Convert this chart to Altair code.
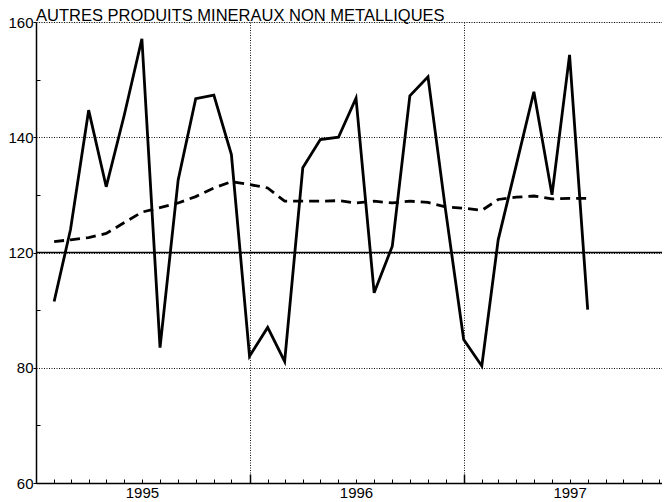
import altair as alt
import pandas as pd

# Monthly observations, Feb 1995 .. Aug 1997
months = pd.date_range("1995-02-01", periods=31, freq="MS").strftime("%Y-%m-%d").tolist()
indice = [111.5, 124.0, 144.7, 131.4, 143.9, 157.1, 103.5, 132.6, 146.7, 147.3, 137.0,
          102.0, 107.0, 101.1, 134.7, 139.6, 140.0, 146.8, 113.0, 121.1, 147.2, 150.5,
          127.4, 104.9, 100.3, 122.2, 135.2, 147.9, 130.0, 154.3, 110.1]
tendance = [121.9, 122.2, 122.6, 123.3, 125.2, 127.0, 127.8, 128.6, 129.7, 131.2, 132.3,
            131.8, 131.2, 128.9, 128.9, 128.9, 129.0, 128.6, 128.9, 128.6, 128.9, 128.7,
            127.9, 127.7, 127.3, 129.2, 129.6, 129.8, 129.3, 129.4, 129.4]
y_ticks = [80, 100, 120, 140, 160]
y_minor = [90, 110, 130, 150]
reference = [120]
title_text = "AUTRES PRODUITS MINERAUX NON METALLIQUES"

W, H = 626, 461
FONT = "Liberation Sans"

df = pd.DataFrame({"mois": months, "indice": indice, "tendance": tendance})


def dt(y, m, d=1):
    return alt.DateTime(year=y, month=m, date=d, utc=True)


xscale = alt.Scale(type="utc", domain=[dt(1995, 1, 1), dt(1997, 12, 6)])
yscale = alt.Scale(domain=[80, 160], nice=False, zero=False)

mid_years = [dt(1995, 7, 1), dt(1996, 7, 1), dt(1997, 7, 1)]
year_starts = [dt(1996, 1, 1), dt(1997, 1, 1)]
month_starts = [dt(y, m) for y in (1995, 1996, 1997) for m in range(1, 13)]

base = alt.Chart(df)

solid = base.mark_line(color="black", strokeWidth=2.8, strokeJoin="miter").encode(
    x=alt.X("mois:T", scale=xscale, title=None,
            axis=alt.Axis(orient="bottom", values=mid_years,
                          labelExpr="utcFormat(datum.value, '%Y')",
                          ticks=False, grid=False, domain=True, domainColor="black",
                          domainWidth=1.5, labelFont=FONT, labelFontSize=15,
                          labelColor="black", labelPadding=2)),
    y=alt.Y("indice:Q", scale=yscale, title=None,
            axis=alt.Axis(orient="left", values=y_ticks,
                          labelExpr="datum.value == 100 ? '80' : datum.value == 80 ? '60' : datum.label",
                          tickSize=3, tickColor="black", labelPadding=0, grid=True,
                          gridDash=[1, 1.5], gridColor="#111111", gridWidth=1,
                          domainColor="black", domainWidth=1.5, labelFont=FONT,
                          labelFontSize=15, labelColor="black")),
)

dashed = base.mark_line(color="black", strokeWidth=2.8, strokeDash=[10, 6]).encode(
    x=alt.X("mois:T", scale=xscale, title=None,
            axis=alt.Axis(orient="bottom", values=year_starts, ticks=False, labels=False,
                          domain=False, grid=True, gridDash=[1, 1.5], gridColor="#111111",
                          gridWidth=1)),
    y=alt.Y("tendance:Q", scale=yscale, title=None,
            axis=alt.Axis(orient="right", offset=-W, values=y_minor, tickSize=4,
                          tickColor="black", labels=False, domain=False, grid=False)),
)

month_ticks = base.mark_point(opacity=0).encode(
    x=alt.X("mois:T", scale=xscale, title=None,
            axis=alt.Axis(orient="top", offset=-H, values=month_starts, tickSize=4,
                          tickColor="black", tickWidth=1, labels=False, domain=False,
                          grid=False)),
    y=alt.Y("indice:Q", scale=yscale, axis=None),
)

year_ticks = base.mark_point(opacity=0).encode(
    x=alt.X("mois:T", scale=xscale, title=None,
            axis=alt.Axis(orient="top", offset=-H, values=year_starts, tickSize=9,
                          tickColor="black", tickWidth=1.5, labels=False, domain=False,
                          grid=False)),
    y=alt.Y("indice:Q", scale=yscale, axis=None),
)

ref_rule = alt.Chart(pd.DataFrame({"ref": reference})).mark_rule(
    color="black", strokeWidth=1.5
).encode(y=alt.Y("ref:Q", scale=yscale, axis=None))

chart = alt.layer(dashed, month_ticks, year_ticks, ref_rule, solid).resolve_axis(
    x="independent", y="independent"
).properties(
    width=W, height=H,
    autosize=alt.AutoSizeParams(type="none"),
    padding={"left": 28, "top": 14, "right": 0, "bottom": 18},
    title=alt.TitleParams(title_text, anchor="start", frame="group", font=FONT,
                          fontSize=16.5, fontWeight="normal", color="black", offset=3,
                          baseline="alphabetic", dy=25.5),
).configure_view(stroke=None).configure(background="white")

chart.save("out.html", embed_options={"renderer": "svg", "actions": False})
